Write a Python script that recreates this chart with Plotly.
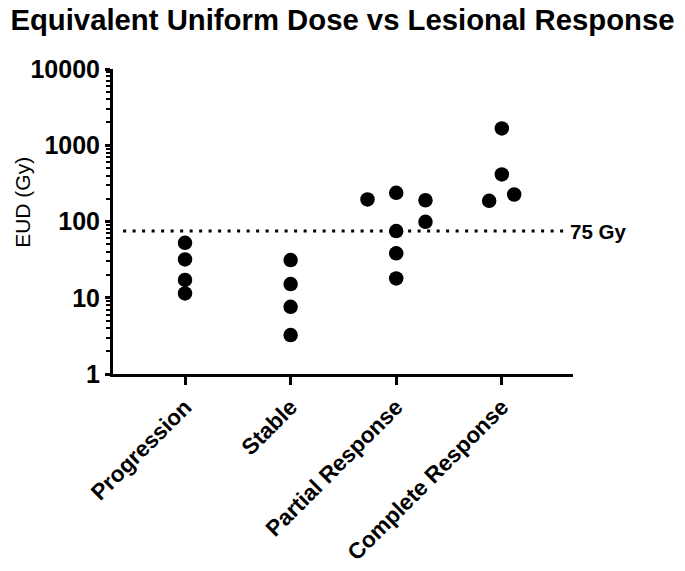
import math
import plotly.graph_objects as go

categories = ["Progression", "Stable", "Partial Response", "Complete Response"]

# EUD values (Gy) per lesion, with beeswarm column offsets as drawn
progression = [52.6, 31.8, 17.1, 11.4]
progression_off = [0, 0, 0, 0]
stable = [31.2, 15.1, 7.6, 3.24]
stable_off = [0, 0, 0, 0]
partial = [195, 238, 74.8, 38.2, 17.9, 190, 99]
partial_off = [-0.272, 0, 0, 0, 0, 0.277, 0.277]
complete = [187, 1660, 414, 226]
complete_off = [-0.12, 0, 0, 0.117]

threshold = 75
threshold_label = "75 Gy"
yticks = [1, 10, 100, 1000, 10000]
y_title = "EUD (Gy)"

groups = [(progression, progression_off), (stable, stable_off),
          (partial, partial_off), (complete, complete_off)]

xs, ys = [], []
for i, (vals, offs) in enumerate(groups):
    for v, o in zip(vals, offs):
        xs.append(i + o)
        ys.append(v)

FONT = "Liberation Sans, Arial"

fig = go.Figure()
fig.add_trace(go.Scatter(
    x=xs, y=ys, mode="markers",
    marker=dict(color="black", size=14.5, line=dict(width=0)),
    showlegend=False, cliponaxis=False,
))

fig.add_shape(type="line", xref="paper", yref="y",
              x0=0.022, x1=0.98, y0=threshold, y1=threshold,
              line=dict(color="black", width=3, dash="3px,6.5px"))
fig.add_annotation(xref="paper", yref="y", x=0.99, y=math.log10(threshold),
                   text=f"<b>{threshold_label}</b>", showarrow=False, xanchor="left",
                   font=dict(family=FONT, size=20.5, color="black"))
fig.add_annotation(xref="paper", yref="paper", x=-0.196, y=0.564,
                   text=y_title, showarrow=False, textangle=-90,
                   xanchor="center", yanchor="middle",
                   font=dict(family=FONT, size=21, color="black"))

fig.update_layout(
    width=685, height=571,
    margin=dict(l=113, r=112, t=69, b=197),
    paper_bgcolor="white", plot_bgcolor="white",
    title=dict(text="<b>Equivalent Uniform Dose vs Lesional Response</b>",
               x=0.5, xanchor="center", y=0.966, yanchor="middle",
               font=dict(family=FONT, size=29.3, color="black")),
    xaxis=dict(
        range=[-0.682, 3.674], tickvals=list(range(len(categories))),
        ticktext=[f"<b>{c}</b>" for c in categories],
        tickangle=-45, ticks="outside", ticklen=8, tickwidth=3, tickcolor="black",
        showline=True, linecolor="black", linewidth=3, showgrid=False, zeroline=False,
        automargin=False,
        tickfont=dict(family=FONT, size=22.5, color="black"),
    ),
    yaxis=dict(
        type="log", range=[0, 4], tickvals=yticks,
        ticktext=[f"<b>{t}</b>" for t in yticks],
        ticks="outside", ticklen=5, tickwidth=3, tickcolor="black",
        showline=True, linecolor="black", linewidth=3, showgrid=False, zeroline=False,
        automargin=False,
        minor=dict(ticks="outside", ticklen=4, tickwidth=2, tickcolor="black",
                   dtick="D1", showgrid=False),
        tickfont=dict(family=FONT, size=25, color="black"),
    ),
)

fig.write_html("out.html", config={"displayModeBar": False},
               post_script="document.body.style.margin='0';")
